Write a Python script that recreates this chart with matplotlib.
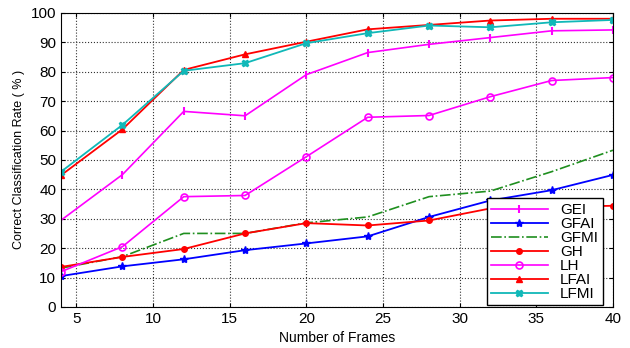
import matplotlib
matplotlib.use('Agg')
import matplotlib.pyplot as plt

frames = [4, 8, 12, 16, 20, 24, 28, 32, 36, 40]

gei = [29.5, 45.0, 66.5, 65.0, 79.0, 86.5, 89.3, 91.6, 93.9, 94.2]
gfai = [10.5, 13.8, 16.2, 19.3, 21.6, 24.0, 30.6, 36.2, 39.7, 44.9]
gfmi = [13.2, 17.1, 25.0, 25.0, 28.6, 30.6, 37.5, 39.4, 46.0, 53.3]
gh = [13.6, 17.0, 19.7, 25.0, 28.5, 27.7, 29.4, 33.5, 34.0, 34.4]
lh = [12.0, 20.5, 37.5, 37.9, 51.1, 64.5, 65.1, 71.5, 77.0, 78.0]
lfai = [44.8, 60.4, 80.6, 85.9, 90.2, 94.4, 95.9, 97.4, 98.0, 98.0]
lfmi = [46.0, 61.9, 80.3, 82.9, 89.7, 93.1, 95.7, 95.1, 96.8, 97.6]

plt.rcParams['font.family'] = ['Liberation Sans', 'DejaVu Sans']

fig = plt.figure(figsize=(6.3, 3.48), dpi=100)
ax = fig.add_axes([0.097, 0.118, 0.876, 0.845])

ax.plot(frames, gei, color='#ff00ff', marker='|', markersize=6, mew=1.5, lw=1.2, label='GEI')
ax.plot(frames, gfai, color='#0000ff', marker='*', markersize=6, lw=1.3, label='GFAI')
ax.plot(frames, gfmi, color='#1f8f1f', linestyle='-.', lw=1.2, label='GFMI')
ax.plot(frames, gh, color='#ff0000', marker='.', markersize=8, lw=1.3, label='GH')
ax.plot(frames, lh, color='#ff00ff', marker='o', markersize=5, mfc='none', mew=1.2, lw=1.2, label='LH')
ax.plot(frames, lfai, color='#ff0000', marker='^', markersize=5, lw=1.3, label='LFAI')
ax.plot(frames, lfmi, color='#10b8b8', marker='X', markersize=5, lw=1.3, label='LFMI')

ax.set_xlim(4, 40)
ax.set_ylim(0, 100)
ax.set_xticks(range(5, 41, 5))
ax.set_yticks(range(0, 101, 10))
ax.tick_params(labelsize=11, direction='in', length=3, top=True, right=True)
ax.grid(True, color='#333333', linestyle=':', linewidth=0.8)
ax.set_xlabel('Number of Frames', fontsize=10)
ax.set_ylabel('Correct Classification Rate ( % )', fontsize=9)

leg = ax.legend(loc='lower right', bbox_to_anchor=(0.981, 0.005), fontsize=11,
                fancybox=False, framealpha=1, edgecolor='black', borderaxespad=0,
                handlelength=3.7, labelspacing=0.0, borderpad=0.3)
leg.get_frame().set_linewidth(1.0)

fig.savefig('out.png', dpi=100)
